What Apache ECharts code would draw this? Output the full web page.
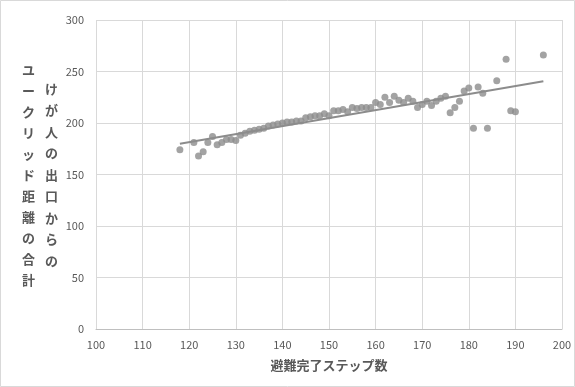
<!DOCTYPE html>
<html>
<head>
<meta charset="utf-8">
<script src="https://cdn.jsdelivr.net/npm/echarts@6/dist/echarts.min.js"></script>
<style>
  html, body { margin: 0; padding: 0; background: #fff; }
  #chart { width: 575px; height: 387px; }
</style>
</head>
<body>
<div id="chart"></div>
<script>
// Evacuation steps vs. summed Euclidean distance from the injured person's exit
const steps = [118,121,122,123,124,125,126,127,128,129,130,131,132,133,134,135,136,137,138,139,
  140,141,142,143,144,145,146,147,148,149,150,151,152,153,154,155,156,157,158,159,
  160,161,162,163,164,165,166,167,168,169,170,171,172,173,174,175,176,177,178,179,
  180,181,182,183,184,186,188,189,190,196];
const distSum = [174,181,168,172,181,187,179,181,184,184,183,188,190,192,193,194,195,197,198,199,
  200,201,201,202,202,205,206,207,207,209,207,212,212,213,211,215,214,215,215,215,
  220,218,225,220,226,222,220,224,221,215,218,221,217,221,224,226,210,215,221,231,
  234,195,235,229,195,241,262,212,211,266];

const xTicks = { min: 100, max: 200, interval: 10 };
const yTicks = { min: 0, max: 300, interval: 50 };
const xTitle = '避難完了ステップ数';
const yTitleLines = ['ユークリッド距離の合計', 'けが人の出口からの'];

// Least-squares trend line across the observed range
function linearFit(xs, ys) {
  const n = xs.length;
  let sx = 0, sy = 0, sxx = 0, sxy = 0;
  for (let i = 0; i < n; i++) { sx += xs[i]; sy += ys[i]; sxx += xs[i] * xs[i]; sxy += xs[i] * ys[i]; }
  const b = (n * sxy - sx * sy) / (n * sxx - sx * sx);
  const a = (sy - b * sx) / n;
  return { a, b };
}
const fit = linearFit(steps, distSum);
const xLo = Math.min(...steps), xHi = Math.max(...steps);
const trend = [[xLo, fit.a + fit.b * xLo], [xHi, fit.a + fit.b * xHi]];

const points = steps.map((s, i) => [s, distSum[i]]);

const chart = echarts.init(document.getElementById('chart'), null, { renderer: 'canvas' });
const font = '"Noto Sans CJK JP", "Noto Sans", sans-serif';
const textGray = '#595959';
const markGray = '#8c8c8c';

chart.setOption({
  animation: false,
  backgroundColor: '#ffffff',
  grid: { left: 96, right: 13, top: 20, bottom: 58 },
  xAxis: {
    type: 'value', min: xTicks.min, max: xTicks.max, interval: xTicks.interval,
    axisLine: { show: true, lineStyle: { color: '#bfbfbf', width: 1 } },
    axisTick: { show: false },
    axisLabel: { color: textGray, fontSize: 11, fontFamily: font, margin: 10 },
    splitLine: { show: true, lineStyle: { color: '#d9d9d9', width: 1 } },
    name: xTitle, nameLocation: 'middle', nameGap: 30,
    nameTextStyle: { color: textGray, fontSize: 13, fontWeight: 'bold', fontFamily: font }
  },
  yAxis: {
    type: 'value', min: yTicks.min, max: yTicks.max, interval: yTicks.interval,
    axisLine: { show: false },
    axisTick: { show: false },
    axisLabel: { color: textGray, fontSize: 11, fontFamily: font, margin: 12 },
    splitLine: { show: true, lineStyle: { color: '#d9d9d9', width: 1 } }
  },
  graphic: [
    {
      type: 'rect', silent: true, z: -1,
      shape: { x: 0.5, y: 0.5, width: 574, height: 386 },
      style: { fill: 'none', stroke: '#d9d9d9', lineWidth: 1 }
    },
    {
      type: 'text', left: 22, top: 60,
      style: {
        text: yTitleLines[0].split('').join('\n'), fill: textGray,
        font: 'bold 13px ' + font, lineHeight: 21, align: 'center'
      }
    },
    {
      type: 'text', left: 45, top: 78,
      style: {
        text: yTitleLines[1].split('').join('\n'), fill: textGray,
        font: 'bold 13px ' + font, lineHeight: 21.5, align: 'center'
      }
    }
  ],
  series: [
    {
      type: 'scatter', data: points, symbol: 'circle', symbolSize: 7,
      itemStyle: { color: markGray }
    },
    {
      type: 'line', data: trend, symbol: 'none',
      lineStyle: { color: markGray, width: 2 }
    }
  ]
});
</script>
</body>
</html>
